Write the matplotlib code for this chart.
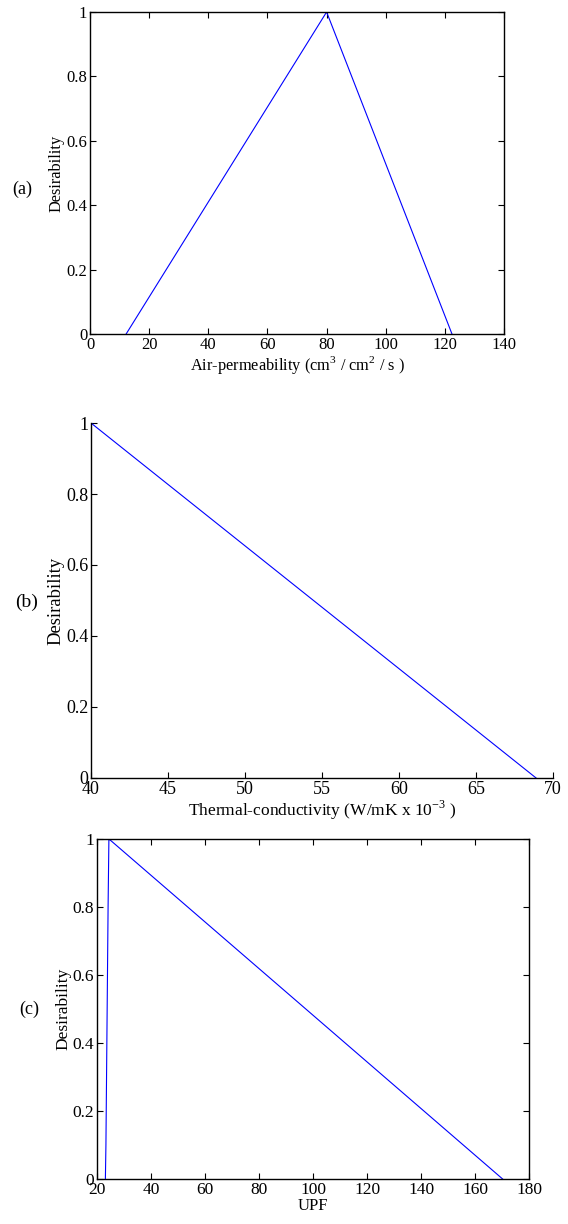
import numpy as np
import matplotlib
matplotlib.use("Agg")
import matplotlib.pyplot as plt

plt.rcParams["font.family"] = ["Liberation Serif", "DejaVu Serif"]
plt.rcParams["mathtext.fontset"] = "custom"
plt.rcParams["mathtext.rm"] = "Liberation Serif"

# (a) air-permeability desirability
air_x = [12.2, 80, 122.4]
air_d = [0, 1, 0]

# (b) thermal-conductivity desirability
tc_x = [40, 68.9]
tc_d = [1, 0]

# (c) UPF desirability
upf_x = [23.1, 23.3, 23.7, 24.1, 24.4, 170.2]
upf_d = [0, 0.1, 0.45, 0.8, 1, 0]

yt = [0, 0.2, 0.4, 0.6, 0.8, 1]
ytl = ["0", "0.2", "0.4", "0.6", "0.8", "1"]

fig = plt.figure(figsize=(5.68, 12.24), dpi=100)
blue = (0, 0, 1)

# panel a
ax1 = fig.add_axes([0.1585, 0.7271, 0.7289, 0.2631])
ax1.plot(air_x, air_d, color=blue, lw=0.8)
ax1.set_xlim(0, 140)
ax1.set_ylim(0, 1)
ax1.set_xticks(np.arange(0, 141, 20))
ax1.set_yticks(yt)
ax1.set_yticklabels(ytl)
ax1.tick_params(direction="in", top=True, right=True, labelsize=12, length=4, pad=2)
ax1.set_xlabel("Air-permeability (cm$^3$ / cm$^2$ / s )", fontsize=11.8, labelpad=1)
ax1.set_ylabel("Desirability", fontsize=11.8, labelpad=1)
fig.text(0.022, 0.845, "(a)", fontsize=13, va="center")

# panel b
ax2 = fig.add_axes([0.1602, 0.3644, 0.8134, 0.2900])
ax2.plot(tc_x, tc_d, color=blue, lw=0.8)
ax2.set_xlim(40, 70)
ax2.set_ylim(0, 1)
ax2.set_xticks(np.arange(40, 71, 5))
ax2.set_yticks(yt)
ax2.set_yticklabels(ytl)
ax2.spines["top"].set_visible(False)
ax2.spines["right"].set_visible(False)
ax2.tick_params(direction="in", labelsize=13, length=4, pad=2)
ax2.set_xlabel("Thermal-conductivity (W/mK x 10$^{-3}$ )", fontsize=12.5, labelpad=1)
ax2.set_ylabel("Desirability", fontsize=13.4, labelpad=1)
fig.text(0.026, 0.508, "(b)", fontsize=14, va="center")

# panel c
ax3 = fig.add_axes([0.1708, 0.0368, 0.7606, 0.2778])
ax3.plot(upf_x, upf_d, color=blue, lw=0.8)
ax3.set_xlim(20, 180)
ax3.set_ylim(0, 1)
ax3.set_xticks(np.arange(20, 181, 20))
ax3.set_yticks(yt)
ax3.set_yticklabels(ytl)
ax3.tick_params(direction="in", top=True, right=True, labelsize=12.5, length=4, pad=2)
ax3.set_xlabel("UPF", fontsize=12, labelpad=0)
ax3.set_ylabel("Desirability", fontsize=12.5, labelpad=1)
fig.text(0.034, 0.175, "(c)", fontsize=13, va="center")

for ax in (ax1, ax2, ax3):
    for s in ax.spines.values():
        s.set_linewidth(1.0)

fig.savefig("out.png", dpi=100)
